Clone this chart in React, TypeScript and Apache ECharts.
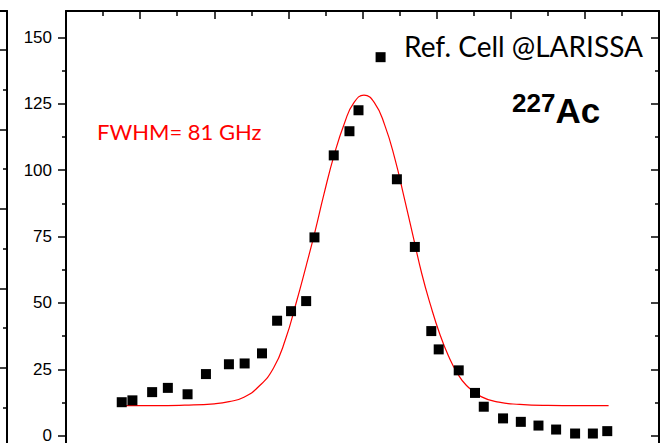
import React, { useEffect, useRef } from "react";
import * as echarts from "echarts";

// Measured points (detuning in GHz, counts)
const dataX = [-162.4, -155.2, -141.9, -131.3, -118.0, -105.6, -90.1, -79.5, -67.8, -57.6, -48.2, -38.0, -32.4, -19.4, -8.8, -2.7, 12.2, 23.2, 35.3, 46.4, 51.4, 64.9, 75.9, 81.8, 94.8, 106.8, 118.7, 130.6, 143.4, 155.4, 165.1];
const dataY = [12.6, 13.3, 16.4, 18.0, 15.6, 23.2, 26.9, 27.2, 31.0, 43.3, 46.9, 50.7, 74.7, 105.6, 114.7, 122.6, 142.6, 96.6, 71.1, 39.4, 32.5, 24.6, 16.1, 10.9, 6.5, 5.2, 3.8, 2.3, 0.8, 0.8, 1.7];

// Fit curve
const fitX = [-162, -140, -120, -100, -90, -80, -70, -60, -52, -45, -38, -32, -26, -19, -12, -6, 1, 8, 15, 22, 28, 34, 40, 46, 52, 58, 64, 70, 80, 92, 106, 125, 145, 166];
const fitY = [11.3, 11.3, 11.5, 12.0, 12.8, 14.5, 18.5, 25.5, 36.2, 49.5, 64, 77, 91, 106, 118, 125.3, 128.3, 125.5, 117, 104, 90, 75.5, 61, 49, 38.5, 30, 23.5, 19, 14.7, 12.6, 11.8, 11.4, 11.3, 11.3];

// Axis ticks
const yMajorTicks = [-25, 0, 25, 50, 75, 100, 125, 150];
const yLabelTicks = [0, 25, 50, 75, 100, 125, 150];
const yMinorTicks = [-12.5, 12.5, 37.5, 62.5, 87.5, 112.5, 137.5];
const sideMajorTicks = [10, 20, 30, 40, 50, 60];
const sideMinorTicks = [5, 15, 25, 35, 45, 55];

const labelText = "Ref. Cell @LARISSA";
const fwhmText = "FWHM= 81 GHz";
const isotopeMass = "227";
const isotopeSymbol = "Ac";

export default function App() {
  const ref = useRef<HTMLDivElement>(null);
  useEffect(() => {
    if (!ref.current) return;
    const chart = echarts.init(ref.current, null, { renderer: "svg" });
    const axisLine = { show: true, onZero: false, lineStyle: { color: "#000", width: 2 } };
    const noLine = { show: false, onZero: false };
    const tickStyle = { color: "#000", width: 1.5 };
    const option: any = {
      animation: false,
      backgroundColor: "#fff",
      grid: [
        { left: 66, top: 11, width: 593, height: 491, containLabel: false, outerBoundsMode: "none" },
        { left: -100, top: 11, width: 107, height: 491, containLabel: false, outerBoundsMode: "none" },
      ],
      xAxis: [
        {
          gridIndex: 0, type: "value", position: "bottom", min: -200, max: 200, interval: 50,
          axisLine, axisTick: { show: false }, axisLabel: { show: false }, splitLine: { show: false },
        },
        {
          gridIndex: 0, type: "value", position: "top", min: -200, max: 200, interval: 50,
          axisLine,
          axisTick: { show: true, inside: true, length: 8, lineStyle: tickStyle },
          minorTick: { show: true, splitNumber: 2, length: 5, lineStyle: tickStyle },
          axisLabel: { show: false }, splitLine: { show: false },
        },
        {
          gridIndex: 1, type: "value", position: "top", min: 0, max: 1,
          axisLine, axisTick: { show: false }, axisLabel: { show: false }, splitLine: { show: false },
        },
      ],
      yAxis: [
        {
          gridIndex: 0, type: "value", position: "left", min: -25, max: 160,
          axisLine,
          axisTick: { show: true, inside: false, length: 8, lineStyle: tickStyle, customValues: yMajorTicks },
          axisLabel: {
            show: true, customValues: yLabelTicks, margin: 14,
            fontFamily: "Liberation Sans", fontSize: 17, color: "#000",
          },
          splitLine: { show: false },
        },
        {
          gridIndex: 0, type: "value", position: "left", min: -25, max: 160,
          axisLine: noLine,
          axisTick: { show: true, inside: false, length: 4, lineStyle: tickStyle, customValues: yMinorTicks },
          axisLabel: { show: false }, splitLine: { show: false },
        },
        {
          gridIndex: 0, type: "value", position: "right", min: -25, max: 160,
          axisLine,
          axisTick: { show: true, inside: true, length: 8, lineStyle: tickStyle, customValues: yMajorTicks },
          axisLabel: { show: false }, splitLine: { show: false },
        },
        {
          gridIndex: 0, type: "value", position: "right", min: -25, max: 160,
          axisLine: noLine,
          axisTick: { show: true, inside: true, length: 4, lineStyle: tickStyle, customValues: yMinorTicks },
          axisLabel: { show: false }, splitLine: { show: false },
        },
        {
          gridIndex: 1, type: "value", position: "right", min: 3.14, max: 64.9,
          axisLine,
          axisTick: { show: true, inside: true, length: 8, lineStyle: tickStyle, customValues: sideMajorTicks },
          axisLabel: { show: false }, splitLine: { show: false },
        },
        {
          gridIndex: 1, type: "value", position: "right", min: 3.14, max: 64.9,
          axisLine: noLine,
          axisTick: { show: true, inside: true, length: 4, lineStyle: tickStyle, customValues: sideMinorTicks },
          axisLabel: { show: false }, splitLine: { show: false },
        },
      ],
      series: [
        {
          type: "line", xAxisIndex: 0, yAxisIndex: 0,
          data: fitX.map((x, i) => [x, fitY[i]]),
          smooth: true, showSymbol: false, symbol: "none",
          lineStyle: { color: "#ff0000", width: 1.2 }, z: 2,
        },
        {
          type: "scatter", xAxisIndex: 0, yAxisIndex: 0,
          data: dataX.map((x, i) => [x, dataY[i]]),
          symbol: "rect", symbolSize: 10,
          itemStyle: { color: "#000", opacity: 1 }, z: 3,
        },
      ],
      graphic: [
        {
          type: "text", x: 404, y: 46,
          style: {
            text: labelText, font: "28px Lato", fill: "#000",
            align: "left", verticalAlign: "middle", textAlign: "left", textVerticalAlign: "middle",
          },
        },
        {
          type: "text", x: 97, y: 131.6,
          style: {
            text: fwhmText, font: "22px Lato", fill: "#ff0000",
            align: "left", verticalAlign: "middle", textAlign: "left", textVerticalAlign: "middle",
          },
        },
        {
          type: "text", x: 512, y: 103,
          style: {
            text: isotopeMass, font: "bold 26px 'Liberation Sans'", fill: "#000",
            align: "left", verticalAlign: "middle", textAlign: "left", textVerticalAlign: "middle",
          },
        },
        {
          type: "text", x: 555.5, y: 110.5,
          style: {
            text: isotopeSymbol, font: "bold 35px 'Liberation Sans'", fill: "#000",
            align: "left", verticalAlign: "middle", textAlign: "left", textVerticalAlign: "middle",
          },
        },
      ],
    };
    chart.setOption(option);
    return () => chart.dispose();
  }, []);
  return (
    <div
      ref={ref}
      style={{ position: "fixed", left: 0, top: 0, width: 667, height: 520, background: "#fff" }}
    />
  );
}
